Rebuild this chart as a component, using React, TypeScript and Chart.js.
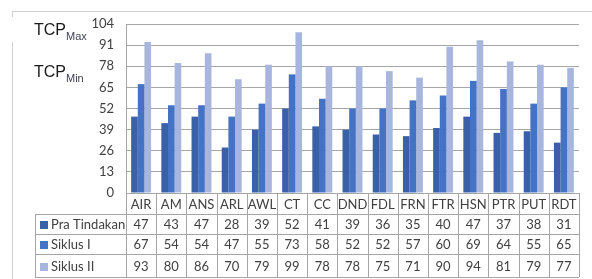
import React, { useEffect, useRef } from "react";
import { Chart, registerables } from "chart.js";

Chart.register(...registerables);

const categories = ["AIR", "AM", "ANS", "ARL", "AWL", "CT", "CC", "DND", "FDL", "FRN", "FTR", "HSN", "PTR", "PUT", "RDT"];
const praTindakan = [47, 43, 47, 28, 39, 52, 41, 39, 36, 35, 40, 47, 37, 38, 31];
const siklusI = [67, 54, 54, 47, 55, 73, 58, 52, 52, 57, 60, 69, 64, 55, 65];
const siklusII = [93, 80, 86, 70, 79, 99, 78, 78, 75, 71, 90, 94, 81, 79, 77];
const seriesNames = ["Pra Tindakan", "Siklus I", "Siklus II"];
const seriesColors = ["#3A60A8", "#4472C4", "#A8B6DE"];
const yMax = 104;
const yStep = 13;

const FONT = "Lato, 'Open Sans', sans-serif";
const TEXT = "#404040";
const GRID = "#A6A6A6";

const tablePlugin = {
  id: "dataTable",
  beforeDraw(chart: any) {
    const ctx = chart.ctx;
    ctx.save();
    ctx.strokeStyle = "#D0D0D0";
    ctx.lineWidth = 1;
    ctx.beginPath();
    ctx.moveTo(12, 11.5);
    ctx.lineTo(592, 11.5);
    ctx.moveTo(12.5, 11);
    ctx.lineTo(12.5, 17);
    ctx.moveTo(12.5, 42);
    ctx.lineTo(12.5, 279);
    ctx.stroke();
    ctx.restore();
  },
  afterDraw(chart: any) {
    const ctx = chart.ctx;
    const area = chart.chartArea;
    const xs = chart.scales.x;
    const n = categories.length;
    const w = (area.right - area.left) / n;
    const rows = [area.bottom, 214, 234, 254, 277];
    const tableLeft = 35;
    ctx.save();
    ctx.strokeStyle = GRID;
    ctx.lineWidth = 1;
    ctx.beginPath();
    // horizontal lines
    for (let r = 1; r < rows.length; r++) {
      const y = Math.round(rows[r]) + 0.5;
      ctx.moveTo(tableLeft, y);
      ctx.lineTo(area.right, y);
    }
    // vertical lines
    for (let i = 0; i <= n; i++) {
      const x = Math.round(area.left + i * w) + 0.5;
      ctx.moveTo(x, i === 0 ? area.top : area.bottom);
      ctx.lineTo(x, rows[rows.length - 1]);
    }
    ctx.moveTo(tableLeft + 0.5, rows[1]);
    ctx.lineTo(tableLeft + 0.5, rows[rows.length - 1]);
    ctx.stroke();

    ctx.fillStyle = TEXT;
    ctx.font = `13px ${FONT}`;
    ctx.textAlign = "center";
    ctx.textBaseline = "middle";
    categories.forEach((c, i) => {
      const cx = xs.getPixelForValue(i);
      ctx.fillText(c, cx, (rows[0] + rows[1]) / 2 + 1);
    });
    const data = [praTindakan, siklusI, siklusII];
    data.forEach((arr, r) => {
      const cy = (rows[r + 1] + rows[r + 2]) / 2 + 1;
      arr.forEach((v, i) => {
        ctx.fillText(String(v), xs.getPixelForValue(i), cy);
      });
      ctx.fillStyle = seriesColors[r];
      ctx.fillRect(40, Math.round(cy) - 4, 8, 8);
      ctx.fillStyle = TEXT;
      ctx.textAlign = "left";
      ctx.fillText(seriesNames[r], 51, cy);
      ctx.textAlign = "center";
    });

    // TCP labels
    const drawTcp = (sub: string, y: number) => {
      ctx.textAlign = "left";
      ctx.textBaseline = "alphabetic";
      ctx.fillStyle = "#1a1a1a";
      ctx.font = `16px 'Liberation Sans', Arial, sans-serif`;
      ctx.fillText("TCP", 34, y);
      const tw = ctx.measureText("TCP").width;
      ctx.fillStyle = "#40405a";
      ctx.font = `11px 'Liberation Sans', Arial, sans-serif`;
      ctx.fillText(sub, 34 + tw, y + 5);
    };
    drawTcp("Max", 35);
    drawTcp("Min", 77);
    ctx.restore();
  },
};

export default function App() {
  const ref = useRef<HTMLCanvasElement | null>(null);
  useEffect(() => {
    if (!ref.current) return;
    const chart = new Chart(ref.current, {
      type: "bar",
      data: {
        labels: categories,
        datasets: [
          { label: seriesNames[0], data: praTindakan, backgroundColor: seriesColors[0] },
          { label: seriesNames[1], data: siklusI, backgroundColor: seriesColors[1] },
          { label: seriesNames[2], data: siklusII, backgroundColor: seriesColors[2] },
        ],
      },
      options: {
        animation: false,
        responsive: false,
        devicePixelRatio: 1,
        layout: { padding: { top: 24, bottom: 86, right: 13, left: 0 } },
        datasets: { bar: { categoryPercentage: 0.66, barPercentage: 1 } },
        plugins: { legend: { display: false }, tooltip: { enabled: false } },
        scales: {
          x: { display: false },
          y: {
            min: 0,
            max: yMax,
            afterFit: (s: any) => {
              s.width = 126;
            },
            ticks: { stepSize: yStep, padding: 12, color: TEXT, font: { size: 13, family: FONT } },
            grid: { color: GRID, drawTicks: false },
            border: { display: true, color: GRID },
          },
        },
      },
      plugins: [tablePlugin],
    });
    return () => chart.destroy();
  }, []);
  return (
    <div style={{ position: "absolute", left: 0, top: 0, width: 592, height: 279, background: "#fff" }}>
      <canvas ref={ref} width={592} height={279} style={{ display: "block" }} />
    </div>
  );
}
